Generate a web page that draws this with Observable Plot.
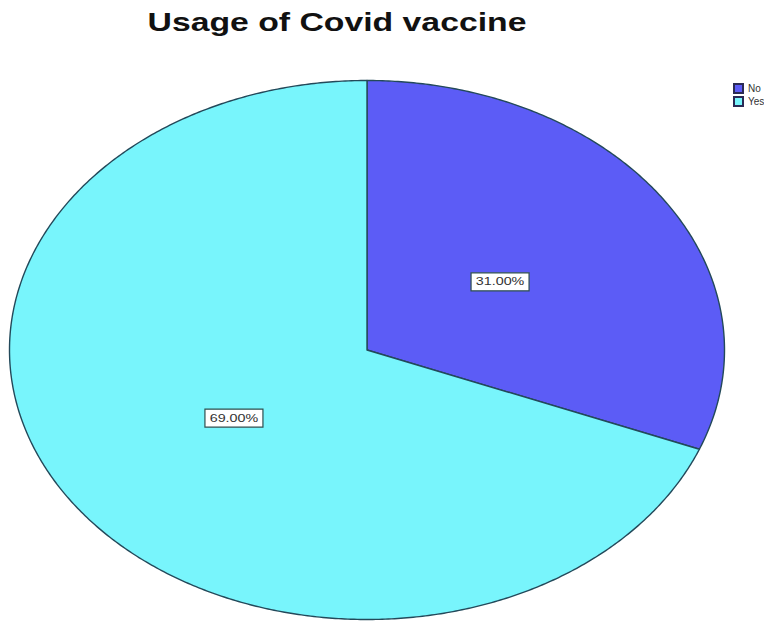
<!DOCTYPE html>
<html>
<head>
<meta charset="utf-8">
<script src="https://cdn.jsdelivr.net/npm/d3@7"></script>
<script src="https://cdn.jsdelivr.net/npm/@observablehq/plot@0.6"></script>
<style>
  html, body { margin: 0; padding: 0; background: #fff; }
  #wrap { position: relative; width: 779px; height: 622px; overflow: hidden; }
  #title {
    position: absolute; left: 0; top: 10px; width: 674px; text-align: center;
    font-family: "Liberation Sans", Arial, sans-serif; font-weight: bold;
    font-size: 25px; line-height: 25px; color: #111;
    transform: scaleX(1.35); transform-origin: 50% 50%;
  }
  #chart { position: absolute; left: 0; top: 50px; }
  #legend { position: absolute; left: 734px; top: 83px; }
  .lg-swatch svg rect { stroke: #2a2a55; stroke-width: 2; }
  .lg-swatch { line-height: 11px; margin-bottom: 1px; }
</style>
</head>
<body>
<div id="wrap">
  <div id="title">Usage of Covid vaccine</div>
  <div id="chart"></div>
  <div id="legend"></div>
</div>
<script>
// Survey answers and their shares (percent)
const answers = ["No", "Yes"];
const shares = [31.0, 69.0];

// Slice colours, in the order of the answers
const sliceColors = ["#5c5cf6", "#78f5fc"];

// Pie layout: start at 12 o'clock, run clockwise, keep the answer order
const pie = d3.pie().sort(null).value(d => d.share);
const slices = pie(answers.map((answer, i) => ({answer, share: shares[i]})));

// Outline of each slice in unit coordinates (y up), angle measured from the top
const step = Math.PI / 360;
const outline = [];
for (const s of slices) {
  const a = s.data.answer;
  outline.push({answer: a, x: 0, y: 0});
  const n = Math.max(2, Math.ceil((s.endAngle - s.startAngle) / step));
  for (let k = 0; k <= n; ++k) {
    const t = s.startAngle + (s.endAngle - s.startAngle) * k / n;
    outline.push({answer: a, x: Math.sin(t), y: Math.cos(t)});
  }
}

// Percentage labels, set inside each slice along its middle angle
const labelRadius = 0.45;
const labels = slices.map(s => {
  const t = (s.startAngle + s.endAngle) / 2;
  return {
    answer: s.data.answer,
    text: d3.format(".2f")(s.data.share) + "%",
    x: labelRadius * Math.sin(t),
    y: labelRadius * Math.cos(t)
  };
});

// Fixed-size box drawn behind each label
const labelBox = {
  draw(context) {
    context.rect(-29, -9, 58, 18);
  }
};

// Stretch label text horizontally to match the wide type of the chart
function widen(index, scales, values, dimensions, context, next) {
  const g = next(index, scales, values, dimensions, context);
  g.querySelectorAll("text").forEach(t => {
    const tr = t.getAttribute("transform") || "";
    t.setAttribute("transform", tr + " scale(1.3,1)");
  });
  return g;
}

const color = {domain: answers, range: sliceColors};

const chart = Plot.plot({
  width: 779,
  height: 572,
  margin: 0,
  style: {background: "transparent"},
  x: {domain: [-1, 1], range: [9, 724], axis: null},
  y: {domain: [-1, 1], range: [569, 30], axis: null},
  color,
  marks: [
    Plot.line(outline, {
      x: "x", y: "y", z: "answer", fill: "answer",
      stroke: "#23495a", strokeWidth: 1.4, strokeLinejoin: "round",
      curve: "linear-closed"
    }),
    Plot.dot(labels, {
      x: "x", y: "y", symbol: labelBox, r: 5,
      fill: "#ffffff", stroke: "#2f4f4f", strokeWidth: 1.2
    }),
    Plot.text(labels, {
      x: "x", y: "y", text: "text",
      fontSize: 11, fontFamily: "Liberation Sans, Arial, sans-serif",
      fill: "#333", render: widen
    })
  ]
});
document.getElementById("chart").appendChild(chart);

const legend = Plot.legend({
  color,
  legend: "swatches",
  columns: 1,
  swatchSize: 9,
  className: "lg",
  style: {fontSize: "10px", fontFamily: "Liberation Sans, Arial, sans-serif", color: "#333"}
});
document.getElementById("legend").appendChild(legend);
</script>
</body>
</html>
